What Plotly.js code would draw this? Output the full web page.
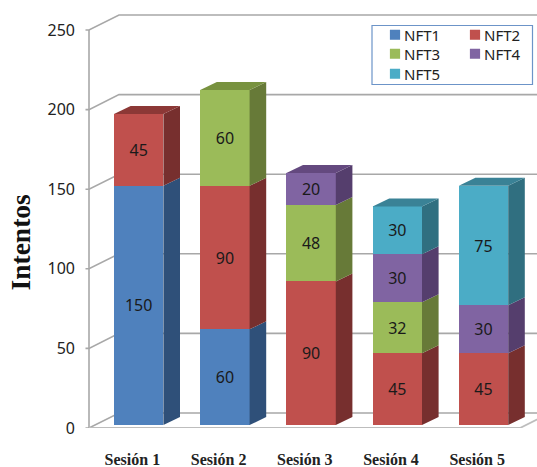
<!DOCTYPE html>
<html>
<head>
<meta charset="utf-8">
<script src="https://cdn.plot.ly/plotly-3.0.1.min.js"></script>
<style>html,body{margin:0;padding:0;background:#fff}#chart{width:537px;height:467px}</style>
</head>
<body>
<div id="chart"></div>
<script>
// Session attempts per NFT, stacked, drawn as pseudo-3D columns.
const categories = ['Sesión 1', 'Sesión 2', 'Sesión 3', 'Sesión 4', 'Sesión 5'];
const NFT1 = [150, 60, null, null, null];
const NFT2 = [45, 90, 90, 45, 45];
const NFT3 = [null, 60, 48, 32, null];
const NFT4 = [null, null, 20, 30, 30];
const NFT5 = [null, null, null, 30, 75];
const yTicks = [0, 50, 100, 150, 200, 250];

const seriesNames = ['NFT1', 'NFT2', 'NFT3', 'NFT4', 'NFT5'];
const seriesValues = [NFT1, NFT2, NFT3, NFT4, NFT5];
const frontColors = ['#4F81BD', '#C0504D', '#9BBB59', '#8064A2', '#4BACC6'];
const sideColors = ['#2F5079', '#772F2E', '#677A38', '#553E6D', '#306F80'];
const topColors = ['#3A6290', '#8C3836', '#78923F', '#64497F', '#3A8296'];
const legendIds = ['legend', 'legend', 'legend2', 'legend2', 'legend3'];

// Scale of the plot area, in pixels per data unit.
const W = 537, H = 467;
const plotLeft = 80, plotBottom = 428, plotTop = 11;
const pxPerCat = 86.2, pxPerVal = 1.592, barPxPerVal = 1.595, firstCatPx = 138.7;
const barBasePx = 425;
const xRange = [(plotLeft - firstCatPx) / pxPerCat, (W - firstCatPx) / pxPerCat];
const yRange = [0, (plotBottom - plotTop) / pxPerVal];
// The columns stand a little behind the front edge of the floor, on their own value scale.
const barRange = [(barBasePx - plotBottom) / barPxPerVal, (barBasePx - plotTop) / barPxPerVal];

// Depth vectors of the columns and of the walls.
const barDX = 16.6 / pxPerCat, barDY = 8 / barPxPerVal;
const wallDX = 30 / pxPerCat, wallDY = 15 / pxPerVal;
const halfBar = 0.2865;
const wallX = (89 - firstCatPx) / pxPerCat;
const tickX = (85.5 - firstCatPx) / pxPerCat;
const floorEndX = (520 - firstCatPx) / pxPerCat;
// Category labels sit under the front edge of the floor, left of the recessed columns.
const labelShift = 6.3 / pxPerCat;

const traces = [];

// Walls: grid lines running along the side wall and across the back.
const gridX = [], gridY = [];
yTicks.forEach(t => {
  gridX.push(tickX, wallX, wallX + wallDX, xRange[1] + 0.2, null);
  gridY.push(t, t, t + wallDY, t + wallDY, null);
});
gridX.push(wallX, wallX, null);
gridY.push(0, yTicks[yTicks.length - 1], null);
traces.push({x: gridX, y: gridY, type: 'scatter', mode: 'lines', xaxis: 'x', yaxis: 'y',
  line: {color: '#A8A8A8', width: 1.6}, showlegend: false, hoverinfo: 'skip'});
traces.push({x: [wallX, floorEndX, floorEndX + wallDX], y: [0, 0, wallDY], type: 'scatter', mode: 'lines',
  xaxis: 'x', yaxis: 'y', line: {color: '#BDBDBD', width: 1.8}, showlegend: false, hoverinfo: 'skip'});

// Front faces as stacked bars.
const catIndex = categories.map((_, i) => i);
seriesValues.forEach((vals, s) => {
  traces.push({
    type: 'bar', name: seriesNames[s], x: catIndex, y: vals,
    xaxis: 'x', yaxis: 'y2', legend: legendIds[s],
    marker: {color: frontColors[s], line: {width: 0}},
    text: vals.map(v => v === null ? '' : String(v)),
    textposition: 'inside', insidetextanchor: 'middle', textangle: 0, constraintext: 'none',
    insidetextfont: {family: '"Noto Sans", sans-serif', size: 16, color: '#1a1a1a'},
    hoverinfo: 'skip'
  });
});

// Side and top faces, derived from the cumulated values.
const totals = categories.map((_, c) => seriesValues.reduce((a, v) => a + (v[c] || 0), 0));
const running = categories.map(() => 0);
seriesValues.forEach((vals, s) => {
  const sx = [], sy = [], tx = [], ty = [];
  vals.forEach((v, c) => {
    if (v === null) return;
    const lo = running[c], hi = lo + v, r = c + halfBar, l = c - halfBar;
    sx.push(r, r + barDX, r + barDX, r, r, null);
    sy.push(lo, lo + barDY, hi + barDY, hi, lo, null);
    running[c] = hi;
    if (hi === totals[c]) {
      tx.push(l, r, r + barDX, l + barDX, l, null);
      ty.push(hi, hi, hi + barDY, hi + barDY, hi, null);
    }
  });
  traces.push({x: sx, y: sy, type: 'scatter', mode: 'lines', fill: 'toself', fillcolor: sideColors[s],
    line: {width: 0}, xaxis: 'x', yaxis: 'y2', showlegend: false, hoverinfo: 'skip'});
  if (tx.length) {
    traces.push({x: tx, y: ty, type: 'scatter', mode: 'lines', fill: 'toself', fillcolor: topColors[s],
      line: {width: 0}, xaxis: 'x', yaxis: 'y2', showlegend: false, hoverinfo: 'skip'});
  }
});

// Pixel to paper helpers for the legend block and the axis title.
const plotW = W - plotLeft, plotH = plotBottom - plotTop;
const paperX = px => (px - plotLeft) / plotW;
const paperY = py => (plotBottom - py) / plotH;

const legendFont = {family: '"Noto Sans", sans-serif', size: 15, color: '#222'};
const legendRow = py => ({
  orientation: 'h', traceorder: 'normal', x: paperX(364), xanchor: 'left', y: paperY(py), yanchor: 'top',
  bgcolor: 'rgba(0,0,0,0)', borderwidth: 0, font: legendFont,
  entrywidth: 35, entrywidthmode: 'pixels', itemclick: false, itemdoubleclick: false
});

const layout = {
  width: W, height: H, paper_bgcolor: '#fff', plot_bgcolor: 'rgba(0,0,0,0)',
  margin: {l: plotLeft, r: 0, t: plotTop, b: H - plotBottom, pad: 0},
  barmode: 'stack', bargap: 0.427,
  xaxis: {type: 'linear', range: xRange, tickmode: 'array', tickvals: catIndex.map(i => i - labelShift),
    ticktext: categories.map(c => '<b>' + c + '</b>'),
    showgrid: false, zeroline: false, showline: false, ticks: '', ticklabelstandoff: 20, automargin: false,
    tickangle: 0, tickfont: {family: '"Liberation Serif", serif', size: 16, color: '#222'}, fixedrange: true},
  yaxis: {range: yRange, tickmode: 'array', tickvals: yTicks, showgrid: false, zeroline: false, showline: false,
    ticks: '', ticklabelstandoff: 4, automargin: false, tickfont: {family: '"Noto Sans", sans-serif', size: 16, color: '#222'}, fixedrange: true},
  yaxis2: {range: barRange, overlaying: 'y', visible: false, fixedrange: true},
  legend: legendRow(18.5),
  legend2: legendRow(37.5),
  legend3: legendRow(57.5),
  shapes: [{type: 'rect', xref: 'paper', yref: 'paper', x0: paperX(372), x1: paperX(532.5), y0: paperY(84.5), y1: paperY(25.5),
    line: {color: '#6C94C8', width: 1.2}, fillcolor: '#fff', layer: 'above'}],
  annotations: [{text: '<b>Intentos</b>', xref: 'paper', yref: 'paper', x: paperX(20), y: paperY(242.5), xanchor: 'center', yanchor: 'middle',
    textangle: -90, showarrow: false, font: {family: '"Liberation Serif", serif', size: 27.5, color: '#111'}}]
};

// Tighten the legend swatches towards their labels.
function placeSwatches() {
  document.querySelectorAll('.legendpoints path').forEach(p => {
    p.setAttribute('transform', 'translate(31,0) scale(0.85)');
  });
}
Plotly.newPlot('chart', traces, layout, {displayModeBar: false, responsive: false}).then(() => {
  placeSwatches();
  document.getElementById('chart').on('plotly_afterplot', placeSwatches);
  requestAnimationFrame(placeSwatches);
});
</script>
</body>
</html>
